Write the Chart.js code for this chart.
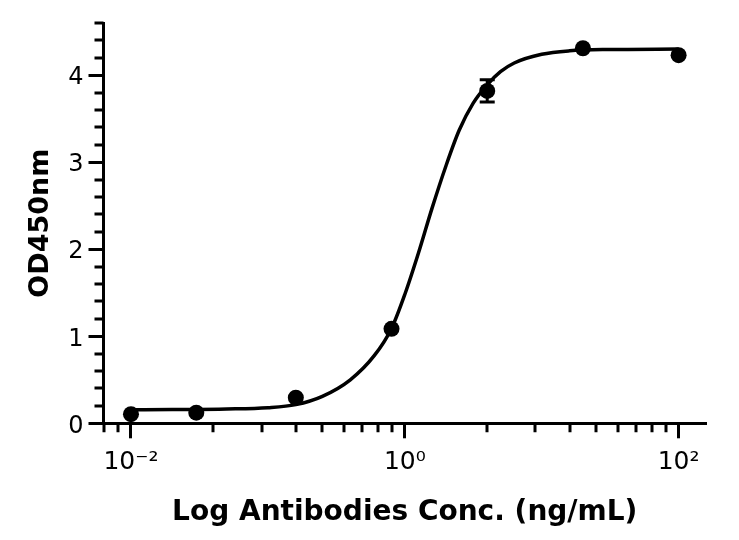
<!DOCTYPE html>
<html>
<head>
<meta charset="utf-8">
<title>OD450nm</title>
<script src="https://cdn.jsdelivr.net/npm/chart.js@4/dist/chart.umd.min.js"></script>
<style>
  html, body { margin: 0; padding: 0; background: #fff; }
  canvas { display: block; }
</style>
</head>
<body>
<canvas id="od-chart" width="739" height="540"></canvas>
<script>
  "use strict";

  // Measured points
  var concValues = [0.01, 0.03, 0.16, 0.8, 4, 20, 100];
  var odValues = [0.105, 0.122, 0.295, 1.086, 3.82, 4.31, 4.23];
  var odErrors = [0, 0, 0, 0, 0.127, 0, 0];

  // Fitted curve
  var fitConc = [0.01, 0.02, 0.05, 0.1, 0.16, 0.25, 0.4, 0.6, 0.8, 1, 1.26, 1.58, 2, 2.5, 3.16, 4, 5, 6.3, 10, 16, 30, 100];
  var fitOd = [0.155, 0.158, 0.165, 0.18, 0.215, 0.31, 0.5, 0.78, 1.09, 1.48, 1.96, 2.47, 2.96, 3.37, 3.68, 3.89, 4.04, 4.14, 4.24, 4.28, 4.295, 4.3];

  // Axis ticks
  var xMajorTicks = [0.01, 1, 100];
  var xTickLabels = ["10⁻²", "10⁰", "10²"];
  var xMinorTicks = [0.0064, 0.0081, 0.04, 0.09, 0.16, 0.25, 0.36, 0.49, 0.64, 0.81, 4, 9, 16, 25, 36, 49, 64, 81];
  var yMajorTicks = [0, 1, 2, 3, 4];
  var yTickLabels = ["0", "1", "2", "3", "4"];
  var yMinorTicks = [0.2, 0.4, 0.6, 0.8, 1.2, 1.4, 1.6, 1.8, 2.2, 2.4, 2.6, 2.8, 3.2, 3.4, 3.6, 3.8, 4.2, 4.4, 4.6];

  var points = concValues.map(function (c, i) {
    return { x: c, y: odValues[i] };
  });
  var curve = fitConc.map(function (c, i) {
    return { x: c, y: fitOd[i] };
  });

  // Short minor ticks on both axes
  var minorTicks = {
    id: "minorTicks",
    afterDraw: function (chart) {
      var ctx = chart.ctx;
      var xs = chart.scales.x;
      var ys = chart.scales.y;
      ctx.save();
      ctx.strokeStyle = "#000";
      ctx.lineWidth = 3;
      ctx.beginPath();
      xMinorTicks.forEach(function (v) {
        var px = Math.round(xs.getPixelForValue(v));
        ctx.moveTo(px, xs.top);
        ctx.lineTo(px, xs.top + 9);
      });
      yMinorTicks.forEach(function (v) {
        var py = Math.round(ys.getPixelForValue(v));
        ctx.moveTo(ys.right, py);
        ctx.lineTo(ys.right - 9, py);
      });
      ctx.stroke();
      ctx.restore();
    },
  };

  // Error bars
  var errorBars = {
    id: "errorBars",
    afterDatasetsDraw: function (chart) {
      var ctx = chart.ctx;
      var xs = chart.scales.x;
      var ys = chart.scales.y;
      ctx.save();
      ctx.strokeStyle = "#000";
      ctx.lineWidth = 3;
      concValues.forEach(function (c, i) {
        if (!odErrors[i]) return;
        var px = xs.getPixelForValue(c);
        var top = ys.getPixelForValue(odValues[i] + odErrors[i]);
        var bot = ys.getPixelForValue(odValues[i] - odErrors[i]);
        ctx.beginPath();
        ctx.moveTo(px, top);
        ctx.lineTo(px, bot);
        ctx.moveTo(px - 7.5, top);
        ctx.lineTo(px + 7.5, top);
        ctx.moveTo(px - 7.5, bot);
        ctx.lineTo(px + 7.5, bot);
        ctx.stroke();
      });
      ctx.restore();
    },
  };

  var ctx = document.getElementById("od-chart").getContext("2d");
  var myChart = new Chart(ctx, {
    type: "line",
    data: {
      datasets: [
        {
          label: "OD450nm",
          data: points,
          showLine: false,
          pointRadius: 8,
          pointBorderWidth: 0,
          pointBackgroundColor: "#000",
          pointBorderColor: "#000",
        },
        {
          label: "Fit",
          data: curve,
          borderColor: "#000",
          borderWidth: 3.5,
          pointRadius: 0,
          fill: false,
          cubicInterpolationMode: "monotone",
        },
      ],
    },
    options: {
      responsive: false,
      animation: false,
      layout: {
        padding: { top: 23, right: 33, bottom: 0, left: 0 },
      },
      plugins: {
        legend: { display: false },
        tooltip: { enabled: false },
      },
      scales: {
        x: {
          type: "logarithmic",
          bounds: "data",
          min: 0.0063,
          max: 158.5,
          afterBuildTicks: function (scale) {
            scale.ticks = xMajorTicks.map(function (v) {
              return { value: v, major: true };
            });
          },
          afterFit: function (scale) {
            scale.height = 116.7;
          },
          border: { color: "#000", width: 3 },
          grid: {
            drawOnChartArea: false,
            tickLength: 15,
            tickWidth: 3,
            tickColor: "#000",
          },
          ticks: {
            color: "#000",
            padding: 9,
            maxRotation: 0,
            autoSkip: false,
            font: { family: "DejaVu Sans", size: 25 },
            callback: function (value) {
              var i = xMajorTicks.indexOf(value);
              return i >= 0 ? xTickLabels[i] : "";
            },
          },
          title: {
            display: true,
            text: "Log Antibodies Conc. (ng/mL)",
            color: "#000",
            font: { family: "DejaVu Sans", size: 28, weight: "bold" },
            padding: { top: 0, bottom: 10 },
          },
        },
        y: {
          min: 0,
          max: 4.6,
          afterBuildTicks: function (scale) {
            scale.ticks = yMajorTicks.map(function (v) {
              return { value: v };
            });
          },
          afterFit: function (scale) {
            scale.width = 103.5;
          },
          border: { color: "#000", width: 3 },
          grid: {
            drawOnChartArea: false,
            tickLength: 15,
            tickWidth: 3,
            tickColor: "#000",
          },
          ticks: {
            color: "#000",
            padding: 5,
            labelOffset: 3,
            font: { family: "DejaVu Sans", size: 24 },
            callback: function (value) {
              var i = yMajorTicks.indexOf(value);
              return i >= 0 ? yTickLabels[i] : "";
            },
          },
          title: {
            display: true,
            text: "OD450nm",
            color: "#000",
            font: { family: "DejaVu Sans", size: 27, weight: "bold" },
            padding: { top: 25, bottom: 0 },
          },
        },
      },
    },
    plugins: [minorTicks, errorBars],
  });
</script>
</body>
</html>
